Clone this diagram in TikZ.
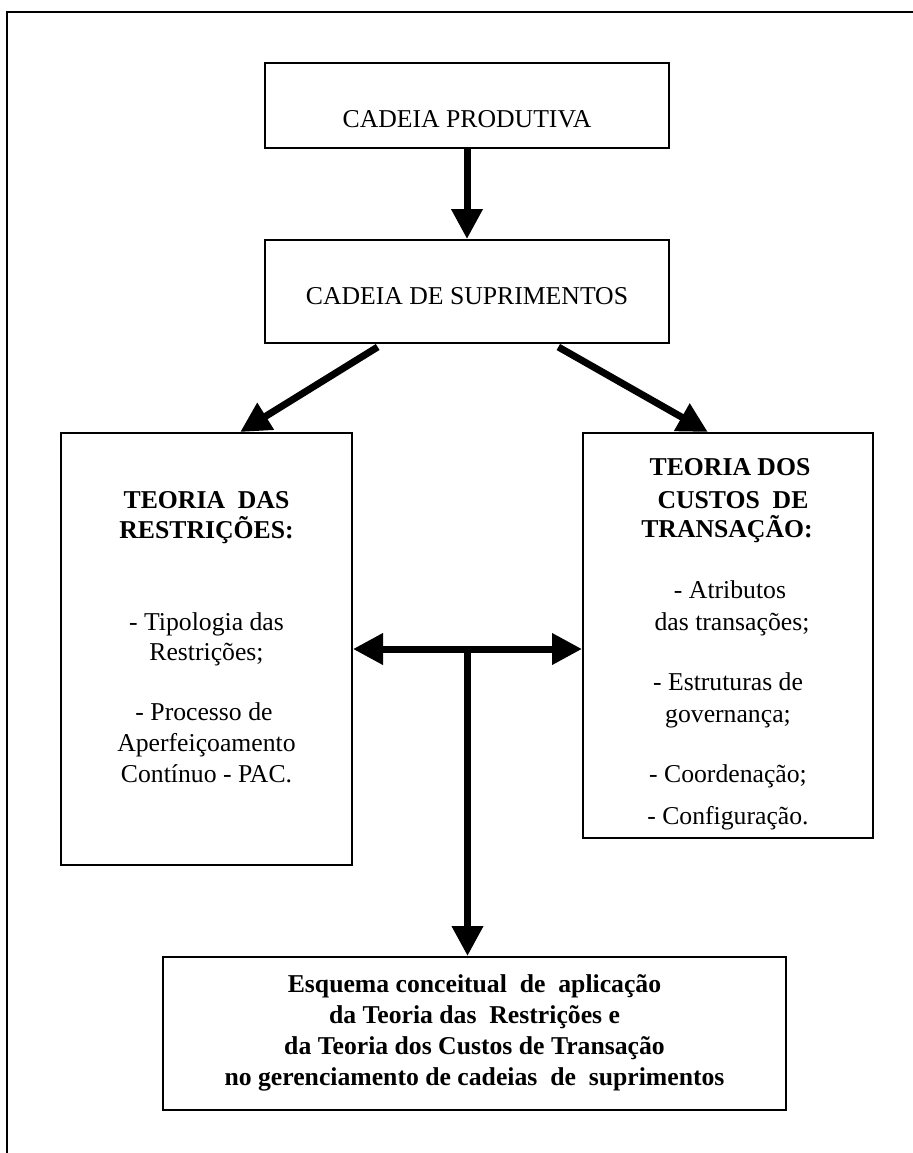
\documentclass[tikz,border=0pt]{standalone}
\usepackage{fontspec}
\setmainfont{Liberation Serif}
\usetikzlibrary{arrows.meta,calc}
\begin{document}
\begin{tikzpicture}[x=0.5pt,y=-0.5pt,
  box/.style={draw,line width=1pt,inner sep=0pt},
  txt/.style={anchor=base,inner sep=0pt,font=\fontsize{12.85}{15.3}\selectfont},
  btxt/.style={txt,font=\fontsize{12.85}{15.3}\selectfont\bfseries},
  bigarrow/.style={line width=3.5pt,-{Triangle[length=15pt,width=15pt]}},
  twoway/.style={line width=3.5pt,{Triangle[length=15pt,width=15pt]}-{Triangle[length=15pt,width=15pt]}},
]
\useasboundingbox (0,0) rectangle (913,1153);
% page frame
\draw[line width=1pt] (7,1153) -- (7,11.5) -- (913,11.5);

% boxes
\node[box,minimum width=202pt,minimum height=42.5pt] (prod) at (467,105.5) {};
\node[box,minimum width=202pt,minimum height=51.5pt] (supr) at (467,291.5) {};
\node[box,minimum width=145.5pt,minimum height=216pt] (toc) at (206.5,649) {};
\node[box,minimum width=145pt,minimum height=202.5pt] (tct) at (728,635.5) {};
\node[box,minimum width=311.5pt,minimum height=76.5pt] (esq) at (474.5,1033.5) {};

% texts
\node[txt] (t1) at (467,127) {CADEIA PRODUTIVA};
\node[txt] (t2) at (467,304) {CADEIA DE SUPRIMENTOS};

\node[btxt] (l1) at (206.5,508) {TEORIA\ \ DAS};
\node[btxt] (l2) at (206.5,538) {RESTRIÇÕES:};
\node[txt] (l3) at (206.5,630) {- Tipologia das};
\node[txt] (l4) at (206.5,660) {Restrições;};
\node[txt] (l5) at (204,720) {- Processo de};
\node[txt] (l6) at (206.5,751) {Aperfeiçoamento};
\node[txt] (l7) at (206.5,782) {Contínuo - PAC.};

\node[btxt] (r1) at (730,475) {TEORIA DOS};
\node[btxt] (r2) at (733,508) {CUSTOS\ \ DE};
\node[btxt] (r3) at (727,537) {TRANSAÇÃO:};
\node[txt] (r4) at (730,598) {- Atributos};
\node[txt] (r5) at (732,630) {das transações;};
\node[txt] (r6) at (728,690) {- Estruturas de};
\node[txt] (r7) at (728,722) {governança;};
\node[txt] (r8) at (728,782) {- Coordenação;};
\node[txt] (r9) at (728,824) {- Configuração.};

\node[btxt] (b1) at (474.5,992) {Esquema conceitual\ \ de\ \ aplicação};
\node[btxt] (b2) at (474.5,1023) {da Teoria das\ \ Restrições e};
\node[btxt] (b3) at (474.5,1054) {da Teoria dos Custos de Transação};
\node[btxt] (b4) at (474.5,1085) {no gerenciamento de cadeias\ \ de\ \ suprimentos};

% connectors
\draw[bigarrow] (prod) -- (supr);
\draw[bigarrow] ($(supr.south west)!0.28!(supr.south east)+(0,3)$) -- ($(toc.north west)!0.615!(toc.north east)$);
\draw[bigarrow] ($(supr.south west)!0.725!(supr.south east)+(0,3)$) -- ($(tct.north west)!0.431!(tct.north east)$);
\draw[twoway] (toc.east) -- (toc.east -| tct.west);
\coordinate (j) at ($(toc.east)!0.5!(toc.east -| tct.west)$);
\draw[bigarrow] (j) -- (j |- esq.north);
\end{tikzpicture}
\end{document}
